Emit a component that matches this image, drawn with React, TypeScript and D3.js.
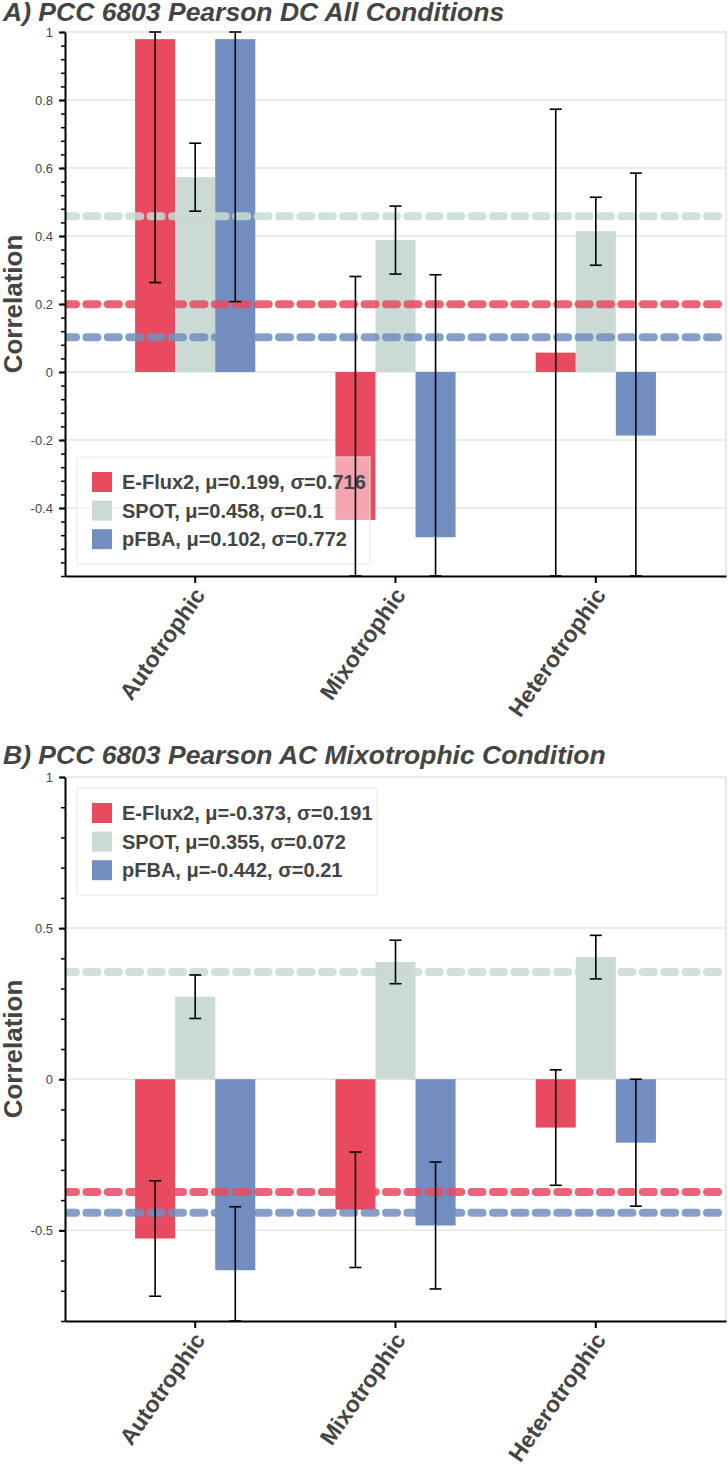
import { useEffect, useRef } from 'react';
import * as d3 from 'd3';

const W = 728
const H = 1465
const plotLeft = 65
const plotRight = 726

const categories = ['Autotrophic', 'Mixotrophic', 'Heterotrophic']
const seriesNames = ['E-Flux2', 'SPOT', 'pFBA']
const colors = ['#e84a5f', '#c9dbd4', '#728dc0']

// panel A values
const aEflux = [0.979, -0.435, 0.057]
const aSpot = [0.573, 0.388, 0.414]
const aPfba = [0.979, -0.486, -0.187]
const aMeans = [0.199, 0.458, 0.102]
const aSigmas = [0.716, 0.1, 0.772]
const aMajorTicks = [-0.4, -0.2, 0, 0.2, 0.4, 0.6, 0.8, 1]

// panel B values
const bEflux = [-0.527, -0.432, -0.16]
const bSpot = [0.273, 0.388, 0.404]
const bPfba = [-0.632, -0.484, -0.21]
const bMeans = [-0.373, 0.355, -0.442]
const bSigmas = [0.191, 0.072, 0.21]
const bMajorTicks = [-0.5, 0, 0.5, 1]

const font = '"Liberation Sans", Arial, Helvetica, sans-serif'
const textColor = '#444'

interface PanelCfg {
  id: string
  title: string
  titleY: number
  top: number
  bottom: number
  domain: [number, number]
  majorTicks: number[]
  minorStep: number
  values: number[][]
  means: number[]
  sigmas: number[]
}

const panels: PanelCfg[] = [
  {
    id: 'a', title: 'A) PCC 6803 Pearson DC All Conditions', titleY: 21, top: 32, bottom: 576,
    domain: [-0.6, 1], majorTicks: aMajorTicks, minorStep: 0.04,
    values: [aEflux, aSpot, aPfba], means: aMeans, sigmas: aSigmas,
  },
  {
    id: 'b', title: 'B) PCC 6803 Pearson AC Mixotrophic Condition', titleY: 764, top: 777, bottom: 1321,
    domain: [-0.8, 1], majorTicks: bMajorTicks, minorStep: 0.1,
    values: [bEflux, bSpot, bPfba], means: bMeans, sigmas: bSigmas,
  },
]

const drawPanel = (root: d3.Selection<SVGSVGElement, unknown, null, undefined>, p: PanelCfg) => {
  const g = root.append('g')

  const x = d3.scaleBand().domain(categories).range([plotLeft, plotRight]).paddingInner(0).paddingOuter(0.15)
  const sub = d3.scaleBand().domain(seriesNames).range([-0.3 * x.bandwidth(), 0.3 * x.bandwidth()])
  const y = d3.scaleLinear().domain(p.domain).range([p.bottom, p.top])

  g.append('defs').append('clipPath').attr('id', `clip-${p.id}`)
    .append('rect').attr('x', plotLeft).attr('y', p.top).attr('width', plotRight - plotLeft).attr('height', p.bottom - p.top)

  // title
  g.append('text')
    .attr('x', 3).attr('y', p.titleY)
    .style('font-family', font).style('font-weight', 'bold').style('font-style', 'italic')
    .style('font-size', '26.5px').style('fill', textColor)
    .text(p.title)

  // frame + gridlines
  g.append('line').attr('x1', plotLeft).attr('x2', plotRight).attr('y1', p.top).attr('y2', p.top)
    .attr('stroke', '#e2e2e2').attr('stroke-width', 1.5)
  g.append('line').attr('x1', plotRight).attr('x2', plotRight).attr('y1', p.top).attr('y2', p.bottom)
    .attr('stroke', '#e2e2e2').attr('stroke-width', 1.5)
  g.selectAll('.grid').data(p.majorTicks.filter(t => t < p.domain[1])).enter().append('line')
    .attr('x1', plotLeft).attr('x2', plotRight)
    .attr('y1', d => y(d)).attr('y2', d => y(d))
    .attr('stroke', '#e6e6e6').attr('stroke-width', 1.5)

  const clipped = g.append('g').attr('clip-path', `url(#clip-${p.id})`)

  // bars
  p.values.forEach((vals, si) => {
    clipped.selectAll(`.bar-${si}`).data(vals).enter().append('rect')
      .attr('x', (_, i) => x(categories[i])! + x.bandwidth() / 2 + sub(seriesNames[si])!)
      .attr('width', sub.bandwidth())
      .attr('y', d => y(Math.max(0, d)))
      .attr('height', d => Math.abs(y(d) - y(0)))
      .attr('fill', colors[si])
  })

  // mean lines
  clipped.selectAll('.mean').data(p.means).enter().append('line')
    .attr('x1', plotLeft).attr('x2', plotRight)
    .attr('y1', d => y(d)).attr('y2', d => y(d))
    .attr('stroke', (_, i) => colors[i])
    .attr('stroke-opacity', 0.85)
    .attr('stroke-width', 8)
    .attr('stroke-linecap', 'round')
    .attr('stroke-dasharray', '11,10.4')

  // legend
  const lg = g.append('g').attr('transform', `translate(77,${p.top + (p.id === 'a' ? 425 : 11)})`)
  lg.append('rect').attr('width', p.id === 'a' ? 293 : 300).attr('height', 107)
    .attr('fill', '#fff').attr('fill-opacity', 0.5).attr('stroke', '#e8e8e8').attr('stroke-width', 1)
  seriesNames.forEach((s, i) => {
    const row = lg.append('g').attr('transform', `translate(15,${15 + i * 28.6})`)
    row.append('rect').attr('width', 20).attr('height', 20).attr('fill', colors[i])
    row.append('text').attr('x', 30).attr('y', 17)
      .style('font-family', font).style('font-weight', 'bold').style('font-size', '20px').style('fill', textColor)
      .text(`${s}, μ=${p.means[i]}, σ=${p.sigmas[i]}`)
  })

  // error bars
  const [lo, hi] = p.domain
  p.values.forEach((vals, si) => {
    vals.forEach((v, i) => {
      const cx = x(categories[i])! + x.bandwidth() / 2 + sub(seriesNames[si])! + sub.bandwidth() / 2
      const y1 = y(Math.min(hi, v + p.sigmas[si]))
      const y2 = y(Math.max(lo, v - p.sigmas[si]))
      const eb = g.append('g').attr('stroke', '#000').attr('stroke-width', 1.6)
      eb.append('line').attr('x1', cx).attr('x2', cx).attr('y1', y1).attr('y2', y2)
      eb.append('line').attr('x1', cx - 6).attr('x2', cx + 6).attr('y1', y1).attr('y2', y1)
      eb.append('line').attr('x1', cx - 6).attr('x2', cx + 6).attr('y1', y2).attr('y2', y2)
    })
  })

  // y axis
  const minor = d3.range(Math.round((hi - lo) / p.minorStep) + 1).map(k => lo + k * p.minorStep)
  g.append('g').attr('transform', `translate(${plotLeft},0)`)
    .call(d3.axisLeft(y).tickValues(minor).tickSize(4).tickFormat(() => ''))
    .call(a => a.select('.domain').remove())
    .call(a => a.selectAll('line').attr('stroke-width', 1.5))
  const yAxis = g.append('g').attr('transform', `translate(${plotLeft},0)`)
    .call(d3.axisLeft(y).tickValues(p.majorTicks).tickSize(6).tickPadding(6).tickSizeOuter(0).tickFormat(d => String(d)))
  yAxis.select('.domain').attr('stroke-width', 2)
  yAxis.selectAll('line').attr('stroke-width', 2)
  yAxis.selectAll('text').style('font-family', font).style('font-size', '13px').style('fill', textColor)

  // x axis
  const xAxis = g.append('g').attr('transform', `translate(0,${p.bottom})`)
    .call(d3.axisBottom(x).tickSize(7).tickSizeOuter(0))
  xAxis.select('.domain').attr('stroke-width', 2)
  xAxis.selectAll('line').attr('stroke-width', 2)
  xAxis.selectAll('text')
    .style('font-family', font).style('font-weight', 'bold').style('font-size', '23px').style('fill', textColor)
    .attr('text-anchor', 'end')
    .attr('dy', null).attr('y', 0)
    .attr('transform', 'translate(11,19) rotate(-55)')

  // y label
  g.append('text')
    .attr('transform', `translate(22,${(p.top + p.bottom) / 2}) rotate(-90)`)
    .attr('text-anchor', 'middle')
    .style('font-family', font).style('font-weight', 'bold').style('font-size', '26px').style('fill', textColor)
    .text('Correlation')
}

const App = () => {
  const ref = useRef<SVGSVGElement>(null)

  useEffect(() => {
    if (!ref.current) return
    const svg = d3.select(ref.current)
    svg.selectAll('*').remove()
    panels.forEach(p => drawPanel(svg, p))
  }, [])

  return (
    <svg
      ref={ref}
      width={W}
      height={H}
      style={{ position: 'absolute', left: 0, top: 0, background: '#fff' }}
    ></svg>
  )
}

export default App;
